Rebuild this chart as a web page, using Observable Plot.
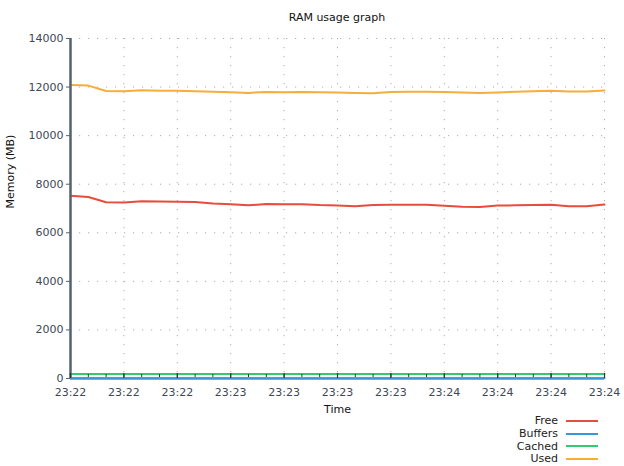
<!DOCTYPE html>
<html><head><meta charset="utf-8">
<script src="https://cdn.jsdelivr.net/npm/d3@7"></script>
<script src="https://cdn.jsdelivr.net/npm/@observablehq/plot@0.6"></script>
<style>
body{margin:0;background:#fff;font-family:"DejaVu Sans",sans-serif;}
#wrap{position:relative;width:624px;height:466px;overflow:hidden;}
#title{position:absolute;left:70px;width:534px;top:11px;text-align:center;font-size:11px;color:#111;line-height:14px;}
#chart{position:absolute;left:0;top:28px;}
#legend{position:absolute;left:380px;width:218px;top:414.5px;font-size:11px;color:#222;}
.row{display:flex;justify-content:flex-end;align-items:center;height:12.7px;}
.sw{width:32px;height:2px;margin-left:8px;}
</style></head>
<body>
<div id="wrap">
  <div id="title">RAM usage graph</div>
  <div id="chart"></div>
  <div id="legend"></div>
</div>
<script>
const times = ["23:22:15","23:22:20","23:22:25","23:22:30","23:22:35","23:22:40","23:22:45","23:22:50","23:22:55","23:23:00",
  "23:23:05","23:23:10","23:23:15","23:23:20","23:23:25","23:23:30","23:23:35","23:23:40","23:23:45","23:23:50",
  "23:23:55","23:24:00","23:24:05","23:24:10","23:24:15","23:24:20","23:24:25","23:24:30","23:24:35","23:24:40","23:24:45"];
const tickTimes = ["23:22:15","23:22:30","23:22:45","23:23:00","23:23:15","23:23:30","23:23:45","23:24:00","23:24:15","23:24:30","23:24:45"];
const yTicks = [0,2000,4000,6000,8000,10000,12000,14000];
const seriesNames = ["Free","Buffers","Cached","Used"];
const seriesColors = ["#e74c3c","#3498db","#2ecc71","#f5ad3c"];
const free = [7530,7470,7260,7250,7300,7290,7280,7270,7210,7180,7130,7190,7180,7180,7140,7120,7090,7140,7150,7150,7150,7110,7070,7060,7120,7130,7140,7150,7090,7090,7160];
const buffers = [10,10,10,10,10,10,10,10,10,10,10,10,10,10,10,10,10,10,10,10,10,10,10,10,10,10,10,10,10,10,10];
const cached = [185,185,185,185,185,185,185,185,185,185,185,185,185,185,185,185,185,185,185,185,185,185,185,185,185,185,185,185,185,185,185];
const used = [12090,12060,11835,11830,11870,11850,11850,11830,11810,11790,11760,11800,11790,11800,11790,11780,11760,11750,11800,11810,11810,11800,11780,11760,11780,11810,11830,11850,11820,11820,11860];

const parse = d3.utcParse("%H:%M:%S");
const T = times.map(parse);
const TT = tickTimes.map(parse);
const valuesBySeries = [free, buffers, cached, used];
const data = seriesNames.flatMap((name, s) => T.map((t, i) => ({time: t, value: valuesBySeries[s][i], series: name})));

const W = 624, H = 390, mt = 10, mb = 40, ml = 70, mr = 20;
const frameH = H - mt - mb;
const axisColor = "#56606f";

const chart = Plot.plot({
  width: W, height: H,
  marginTop: mt, marginBottom: mb, marginLeft: ml, marginRight: mr,
  style: {fontFamily: "DejaVu Sans, sans-serif", fontSize: "11px", background: "transparent"},
  x: {type: "utc", domain: [T[0], T[T.length - 1]]},
  y: {domain: [0, 14000]},
  color: {domain: seriesNames, range: seriesColors},
  marks: [
    Plot.gridX(TT, {stroke: "#999", strokeOpacity: 0.8, strokeDasharray: "1.2,7.8"}),
    Plot.gridY(yTicks, {stroke: "#999", strokeOpacity: 0.8, strokeDasharray: "1.2,7.8"}),
    Plot.axisY({ticks: yTicks, tickFormat: d3.format("d"), tickSize: 4, tickPadding: 3, label: null, color: "#3d4856", stroke: axisColor, fontSize: 11}),
    Plot.axisX({ticks: TT, tickFormat: d3.utcFormat("%H:%M"), tickSize: 0, tickPadding: 10, label: null, color: "#3d4856", fontSize: 11}),
    Plot.ruleY([0], {stroke: axisColor, strokeWidth: 2}),
    Plot.line(data, {x: "time", y: "value", z: "series", stroke: "series", strokeWidth: 2}),
    Plot.ruleX([T[0]], {stroke: axisColor, strokeWidth: 2.5}),
    Plot.tickX(TT, {x: d => d, insetTop: frameH - 5, stroke: "#2b3440", strokeWidth: 1.2}),
    Plot.tickX(T, {x: d => d, insetTop: frameH - 4, insetBottom: 1, stroke: "#2b3440", strokeWidth: 1}),
    Plot.text(["Memory (MB)"], {frameAnchor: "left", dx: -60, rotate: -90, fill: "#111", fontSize: 11}),
    Plot.text(["Time"], {frameAnchor: "bottom", dy: 34, fill: "#111", fontSize: 11})
  ]
});
document.getElementById("chart").appendChild(chart);

const legend = document.getElementById("legend");
seriesNames.forEach((name, i) => {
  const row = document.createElement("div");
  row.className = "row";
  const label = document.createElement("span");
  label.textContent = name;
  const sw = document.createElement("span");
  sw.className = "sw";
  sw.style.background = seriesColors[i];
  row.appendChild(label);
  row.appendChild(sw);
  legend.appendChild(row);
});
</script>
</body></html>
